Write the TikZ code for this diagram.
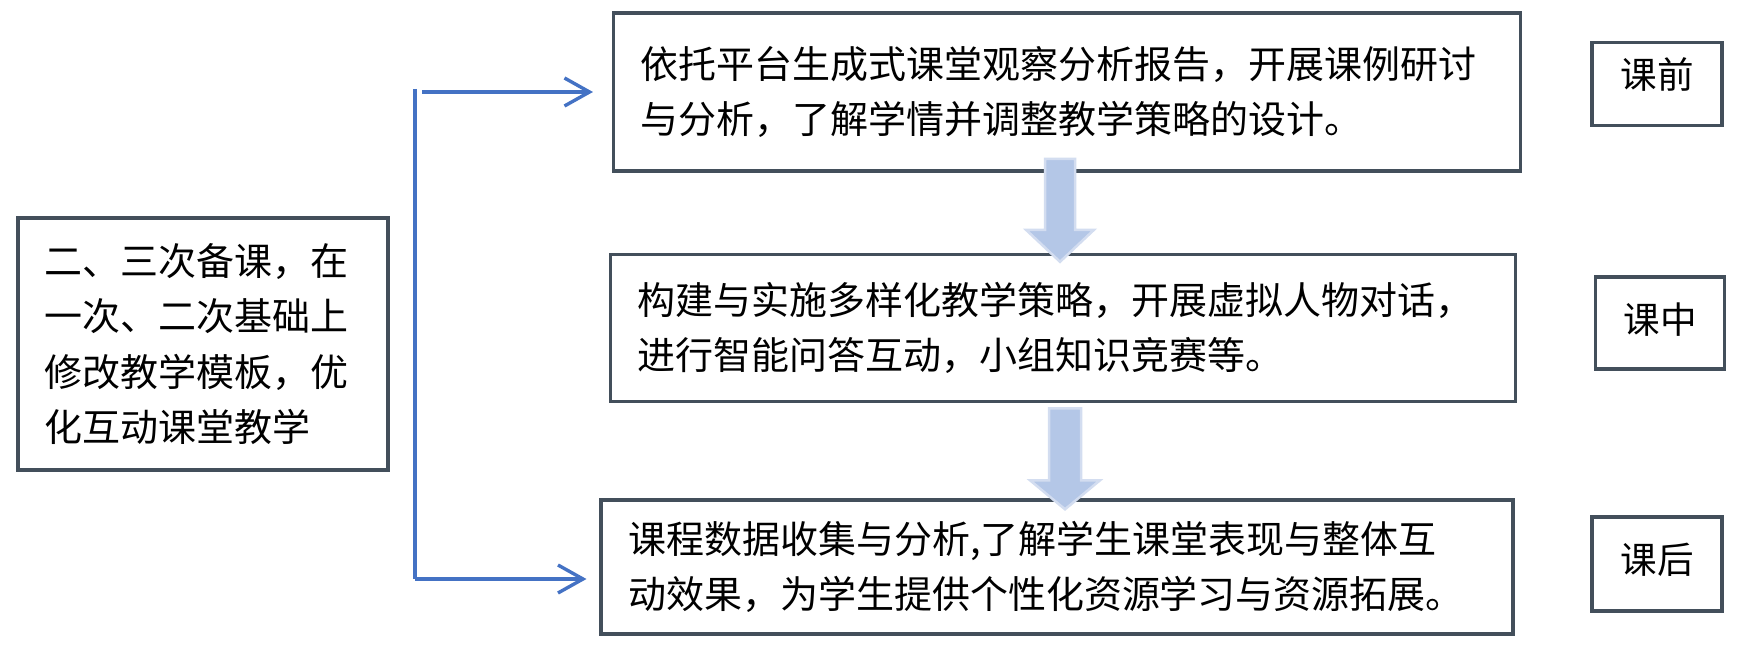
\documentclass[tikz,border=0pt]{standalone}
\usepackage{fontspec}
\newfontfamily\cjk{Noto Sans CJK SC}
\usetikzlibrary{arrows.meta,positioning,calc}
\definecolor{Frame}{HTML}{434F5B}
\definecolor{Link}{HTML}{4472C4}
\definecolor{ArrowFill}{HTML}{B4C7E7}
\definecolor{ArrowEdge}{HTML}{D3DDF0}
\tikzset{
 box/.style={draw=Frame, line width=0.035cm, fill=white, inner xsep=0.27cm, inner ysep=0pt, align=left, font=\fontsize{10.8}{15.8}\selectfont\cjk},
 tagbox/.style={draw=Frame, line width=0.035cm, fill=white, inner sep=0pt, align=center, font=\fontsize{10.4}{14}\selectfont\cjk},
 link/.style={draw=Link, line width=0.034cm},
 flow/.style={link, -{Straight Barb[length=0.25cm,width=0.28cm]}},
 bigarrow/.style={fill=ArrowFill, draw=ArrowEdge, line width=0.025cm, line join=miter}
}
\begin{document}
\begin{tikzpicture}[x=0.01cm,y=-0.01cm]
\useasboundingbox (0,0) rectangle (1752,646);
% left summary box
\node[box,text width=3.16cm,minimum height=2.52cm] (basis) at (203,344) {二、三次备课，在\\一次、二次基础上\\修改教学模板，优\\化互动课堂教学};
% three stages
\node[box,text width=8.52cm,minimum height=1.58cm] (pre) at (1067,92) {依托平台生成式课堂观察分析报告，开展课例研讨\\与分析，了解学情并调整教学策略的设计。};
\node[box,text width=8.50cm,minimum height=1.47cm] (inclass) at (1063,328) {构建与实施多样化教学策略，开展虚拟人物对话，\\进行智能问答互动，小组知识竞赛等。};
\node[box,text width=8.57cm,minimum height=1.34cm] (post) at (1057,567) {课程数据收集与分析,了解学生课堂表现与整体互\\动效果，为学生提供个性化资源学习与资源拓展。};
% stage tags
\node[tagbox,minimum width=1.30cm,minimum height=0.83cm] (tagpre) at (1657,84) {\raisebox{0.22cm}{课前}};
\node[tagbox,minimum width=1.29cm,minimum height=0.92cm] (tagin) at (1660,323) {\raisebox{0.1cm}{课中}};
\node[tagbox,minimum width=1.30cm,minimum height=0.94cm] (tagpost) at (1657,564) {\raisebox{0.12cm}{课后}};
% bracket with arrows
\coordinate (brtop) at (415,89);
\coordinate (brbot) at (415,579);
\draw[link] (brtop) -- (brbot);
\draw[flow] ([xshift=0.07cm]pre.west -| brtop) -- ([xshift=-0.19cm]pre.west);
\draw[flow] (brbot) -- ([xshift=-0.13cm]post.west |- brbot);
% block arrows between stages
\path (pre.south) ++(-7,-14) coordinate (down1);
\path (inclass.south) ++(2,5) coordinate (down2);
\draw[bigarrow,shift={(down1)}] (-15,0) -- (15,0) -- (15,71) -- (34,71) -- (0,103) -- (-34,71) -- (-15,71) -- cycle;
\draw[bigarrow,shift={(down2)}] (-16,0) -- (16,0) -- (16,72) -- (35,72) -- (0,101) -- (-35,72) -- (-16,72) -- cycle;
\end{tikzpicture}
\end{document}
